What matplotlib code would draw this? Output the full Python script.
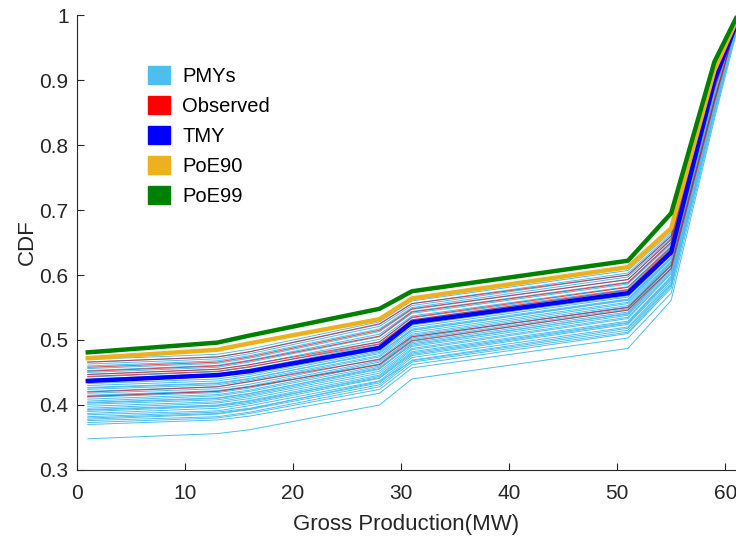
import matplotlib
matplotlib.use("Agg")
import matplotlib.pyplot as plt
from matplotlib.patches import Patch
from matplotlib.ticker import FormatStrFormatter

plt.rcParams['font.family'] = ['Liberation Sans', 'DejaVu Sans']

# production levels (MW) where the CDFs were read
x_mw = [1, 13, 16, 28, 31, 51, 55, 59, 61]

# PMY curves (one row per year)
pmy = [
    [0.348, 0.356, 0.362, 0.400, 0.440, 0.487, 0.561, 0.840, 0.970],
    [0.370, 0.377, 0.383, 0.418, 0.457, 0.503, 0.572, 0.845, 0.975],
    [0.373, 0.380, 0.387, 0.424, 0.462, 0.510, 0.580, 0.850, 0.976],
    [0.376, 0.382, 0.389, 0.428, 0.466, 0.512, 0.583, 0.852, 0.977],
    [0.378, 0.386, 0.393, 0.431, 0.469, 0.518, 0.587, 0.855, 0.978],
    [0.382, 0.389, 0.395, 0.434, 0.473, 0.520, 0.590, 0.858, 0.978],
    [0.385, 0.391, 0.399, 0.437, 0.476, 0.524, 0.593, 0.860, 0.979],
    [0.387, 0.395, 0.402, 0.441, 0.478, 0.526, 0.595, 0.862, 0.980],
    [0.390, 0.398, 0.404, 0.444, 0.482, 0.529, 0.598, 0.864, 0.980],
    [0.393, 0.400, 0.407, 0.446, 0.485, 0.533, 0.602, 0.866, 0.981],
    [0.395, 0.403, 0.410, 0.449, 0.487, 0.535, 0.604, 0.868, 0.982],
    [0.398, 0.405, 0.413, 0.452, 0.490, 0.538, 0.606, 0.870, 0.982],
    [0.401, 0.408, 0.415, 0.455, 0.494, 0.540, 0.609, 0.872, 0.983],
    [0.404, 0.411, 0.418, 0.456, 0.496, 0.543, 0.611, 0.874, 0.983],
    [0.406, 0.414, 0.421, 0.460, 0.498, 0.546, 0.614, 0.876, 0.984],
    [0.409, 0.416, 0.423, 0.463, 0.501, 0.548, 0.615, 0.878, 0.984],
    [0.412, 0.419, 0.426, 0.466, 0.503, 0.551, 0.618, 0.880, 0.985],
    [0.415, 0.422, 0.429, 0.468, 0.507, 0.553, 0.620, 0.882, 0.985],
    [0.418, 0.425, 0.432, 0.471, 0.509, 0.556, 0.622, 0.884, 0.986],
    [0.421, 0.428, 0.436, 0.474, 0.512, 0.558, 0.625, 0.886, 0.986],
    [0.424, 0.431, 0.438, 0.476, 0.515, 0.561, 0.626, 0.888, 0.987],
    [0.427, 0.434, 0.441, 0.479, 0.517, 0.563, 0.628, 0.889, 0.987],
    [0.430, 0.437, 0.444, 0.483, 0.520, 0.566, 0.631, 0.891, 0.988],
    [0.433, 0.440, 0.447, 0.485, 0.523, 0.568, 0.633, 0.893, 0.988],
    [0.436, 0.444, 0.451, 0.489, 0.527, 0.572, 0.636, 0.895, 0.988],
    [0.440, 0.448, 0.455, 0.493, 0.531, 0.576, 0.639, 0.897, 0.989],
    [0.443, 0.451, 0.458, 0.497, 0.534, 0.578, 0.642, 0.899, 0.989],
    [0.447, 0.455, 0.462, 0.501, 0.537, 0.582, 0.645, 0.900, 0.990],
    [0.450, 0.458, 0.466, 0.505, 0.541, 0.586, 0.648, 0.902, 0.990],
    [0.453, 0.461, 0.469, 0.509, 0.544, 0.589, 0.651, 0.904, 0.991],
    [0.456, 0.464, 0.472, 0.513, 0.547, 0.593, 0.654, 0.906, 0.991],
    [0.460, 0.468, 0.476, 0.517, 0.550, 0.597, 0.657, 0.908, 0.992],
    [0.463, 0.471, 0.479, 0.521, 0.553, 0.600, 0.660, 0.910, 0.992],
    [0.466, 0.474, 0.482, 0.524, 0.556, 0.603, 0.663, 0.911, 0.993],
    [0.470, 0.478, 0.486, 0.528, 0.560, 0.607, 0.666, 0.913, 0.993],
    [0.380, 0.387, 0.394, 0.436, 0.468, 0.515, 0.585, 0.853, 0.977],
    [0.392, 0.399, 0.406, 0.442, 0.480, 0.527, 0.597, 0.863, 0.981],
    [0.403, 0.410, 0.417, 0.458, 0.492, 0.541, 0.610, 0.873, 0.983],
    [0.414, 0.421, 0.428, 0.463, 0.505, 0.550, 0.619, 0.881, 0.985],
    [0.426, 0.433, 0.440, 0.481, 0.515, 0.562, 0.627, 0.888, 0.987],
]

# observed years
observed = [
    [0.466, 0.474, 0.482, 0.525, 0.556, 0.600, 0.660, 0.900, 0.990],
    [0.458, 0.466, 0.474, 0.515, 0.548, 0.593, 0.655, 0.895, 0.990],
    [0.452, 0.460, 0.468, 0.506, 0.543, 0.588, 0.650, 0.892, 0.989],
    [0.447, 0.455, 0.462, 0.497, 0.535, 0.581, 0.643, 0.890, 0.988],
    [0.444, 0.452, 0.459, 0.494, 0.531, 0.577, 0.640, 0.886, 0.987],
    [0.420, 0.428, 0.436, 0.470, 0.505, 0.550, 0.615, 0.870, 0.985],
    [0.413, 0.421, 0.428, 0.462, 0.499, 0.546, 0.610, 0.866, 0.985],
]

tmy = [0.437, 0.446, 0.452, 0.488, 0.527, 0.572, 0.635, 0.900, 0.985]
poe90 = [0.472, 0.485, 0.495, 0.532, 0.564, 0.612, 0.672, 0.915, 0.990]
poe99 = [0.481, 0.496, 0.507, 0.548, 0.575, 0.622, 0.695, 0.928, 0.995]

c_pmy = '#4DBEEE'
c_obs = '#FF0000'
c_tmy = '#0000FF'
c_p90 = '#EDB120'
c_p99 = '#008000'

fig = plt.figure(figsize=(7.36, 5.37), dpi=100)
ax = fig.add_axes([0.1046, 0.1248, 0.8954, 0.8472])

for row in pmy:
    ax.plot(x_mw, row, color=c_pmy, lw=0.7, solid_joinstyle='round')
for row in observed:
    ax.plot(x_mw, row, color='#D01020', lw=0.8, alpha=0.7, solid_joinstyle='round')
ax.plot(x_mw, tmy, color=c_tmy, lw=3.2, solid_joinstyle='round')
ax.plot(x_mw, poe90, color=c_p90, lw=3.2, solid_joinstyle='round')
ax.plot(x_mw, poe99, color=c_p99, lw=3.2, solid_joinstyle='round')

ax.set_xlim(0, 61)
ax.set_ylim(0.3, 1.0)
ax.set_xticks([0, 10, 20, 30, 40, 50, 60])
ax.set_yticks([0.3, 0.4, 0.5, 0.6, 0.7, 0.8, 0.9, 1.0])
ax.yaxis.set_major_formatter(FormatStrFormatter('%g'))
ax.tick_params(direction='in', length=5, width=0.8, labelsize=15,
               colors='#262626')
ax.tick_params(axis='x', pad=10)
ax.tick_params(axis='y', pad=6)

for side in ['top', 'right']:
    ax.spines[side].set_visible(False)
for side in ['left', 'bottom']:
    ax.spines[side].set_color('#262626')
    ax.spines[side].set_linewidth(0.8)

ax.set_xlabel('Gross Production(MW)', fontsize=16, color='#262626', labelpad=8)
ax.set_ylabel('CDF', fontsize=16, color='#262626', labelpad=1)

handles = [Patch(color=c_pmy, label='PMYs'),
           Patch(color=c_obs, label='Observed'),
           Patch(color=c_tmy, label='TMY'),
           Patch(color=c_p90, label='PoE90'),
           Patch(color=c_p99, label='PoE99')]
ax.legend(handles=handles, loc='upper left', bbox_to_anchor=(0.08, 0.928),
          frameon=False, fontsize=14.5, handlelength=1.1, handleheight=1.0,
          handletextpad=0.6, labelspacing=0.5)

fig.savefig('out.png', dpi=100)
